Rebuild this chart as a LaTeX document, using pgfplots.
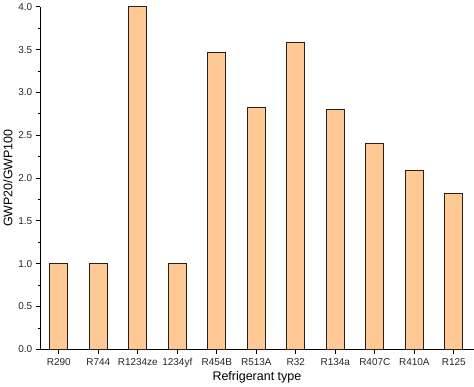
\documentclass[border=0pt]{standalone}
\usepackage{pgfplots}
\pgfplotsset{compat=1.18}
\usepackage{fontspec}
\setmainfont{Liberation Sans}
\definecolor{barfill}{HTML}{FFC996}
\definecolor{baredge}{HTML}{2A2018}
\begin{document}
\begin{tikzpicture}
\begin{axis}[
  scale only axis,
  width=434pt, height=343pt,
  xmin=-0.47, xmax=10.5,
  ymin=0, ymax=4.0,
  axis x line*=bottom, axis y line*=left,
  axis line style={-, line width=0.9pt},
  xtick=data,
  xticklabels={R290,R744,R1234ze,1234yf,R454B,R513A,R32,R134a,R407C,R410A,R125},
  ytick={0,0.5,...,4.0},
  minor y tick num=1,
  yticklabel style={/pgf/number format/.cd, fixed, fixed zerofill, precision=1},
  /pgf/number format/assume math mode=true,
  tick align=outside,
  major tick length=4.5pt, minor tick length=2.5pt,
  tick style={black, line width=0.8pt},
  ticklabel style={font=\fontsize{10}{12}\selectfont, text=black!85},
  xticklabel style={yshift=-1pt},
  xlabel={Refrigerant type}, ylabel={GWP20/GWP100},
  label style={font=\fontsize{12.5}{15}\selectfont},
  xlabel style={yshift=3pt},
  ylabel style={yshift=-1pt},
  clip=false,
]
\addplot[ybar, bar width=18pt, fill=barfill, draw=baredge, line width=0.8pt] coordinates {
(0,1.0) (1,1.0) (2,4.0) (3,1.0) (4,3.47) (5,2.83) (6,3.59) (7,2.80) (8,2.41) (9,2.09) (10,1.82)
};
\end{axis}
\end{tikzpicture}
\end{document}
